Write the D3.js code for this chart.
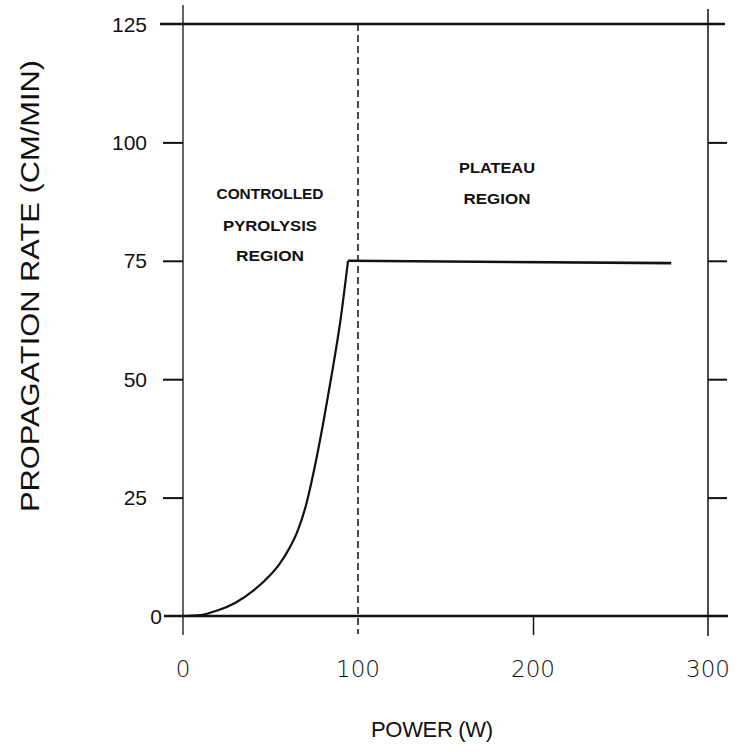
<!DOCTYPE html>
<html><head><meta charset="utf-8">
<script src="https://cdn.jsdelivr.net/npm/d3@7"></script>
<style>body{margin:0;background:#fff}svg{display:block}</style>
</head><body>
<script>
// Data
const power = [0, 10, 20, 30, 40, 50, 55, 60, 65, 70, 75, 80, 85, 90, 94.3, 279];
const rate  = [0, 0.2, 1.2, 2.8, 5.3, 8.7, 10.9, 13.8, 17.5, 23.0, 31.0, 40.5, 51.0, 62.5, 75.0, 74.5];
const xTicks = [0, 100, 200, 300];
const yTicks = [0, 25, 50, 75, 100, 125];
const boundaryX = 100;
const regionLeft = ["CONTROLLED", "PYROLYSIS", "REGION"];
const regionRight = ["PLATEAU", "REGION"];
const xTitle = "POWER (W)";
const yTitle = "PROPAGATION RATE (CM/MIN)";

const W = 739, H = 752;
const svg = d3.select("body").append("svg").attr("width", W).attr("height", H);
const x = d3.scaleLinear().domain([0, 300]).range([183, 708]);
const y = d3.scaleLinear().domain([0, 125]).range([616, 24]);

const ink = "#111";
const g = svg.append("g");

// frame lines
g.append("line").attr("x1", 160).attr("x2", 725).attr("y1", y(125)).attr("y2", y(125)).attr("stroke", ink).attr("stroke-width", 2.6);
g.append("line").attr("x1", 164).attr("x2", 728).attr("y1", y(0)).attr("y2", y(0)).attr("stroke", ink).attr("stroke-width", 2.6);
g.append("line").attr("x1", x(0)).attr("x2", x(0)).attr("y1", 5).attr("y2", 635).attr("stroke", ink).attr("stroke-width", 1.3);
g.append("line").attr("x1", x(300)).attr("x2", x(300)).attr("y1", 9).attr("y2", 636).attr("stroke", ink).attr("stroke-width", 1.5);

// y ticks (left and right, outward)
const yAxisL = d3.axisLeft(y).tickValues(yTicks.filter(v => v > 0 && v < 125)).tickSize(20).tickFormat("");
const yAxisR = d3.axisRight(y).tickValues(yTicks.filter(v => v > 0 && v < 125)).tickSize(19).tickFormat("");
const gl = svg.append("g").attr("transform", `translate(${x(0)},0)`).call(yAxisL);
const gr = svg.append("g").attr("transform", `translate(${x(300)},0)`).call(yAxisR);
[gl, gr].forEach(a => { a.select(".domain").remove(); a.selectAll("line").attr("stroke", ink).attr("stroke-width", 2); });

// x ticks downward
const xAxis = d3.axisBottom(x).tickValues([200]).tickSize(19).tickFormat("");
const gx = svg.append("g").attr("transform", `translate(0,${y(0)})`).call(xAxis);
gx.select(".domain").remove();
gx.selectAll("line").attr("stroke", ink).attr("stroke-width", 1.5);

// dashed boundary
g.append("line").attr("x1", x(boundaryX)).attr("x2", x(boundaryX)).attr("y1", y(125)).attr("y2", 634)
  .attr("stroke", ink).attr("stroke-width", 1.5).attr("stroke-dasharray", "7,4");

// curve
const pts = power.map((p, i) => [p, rate[i]]);
const line = d3.line().x(d => x(d[0])).y(d => y(d[1])).curve(d3.curveMonotoneX);
g.append("path").attr("d", line(pts.slice(0, 15))).attr("fill", "none").attr("stroke", ink).attr("stroke-width", 2.2);
g.append("path").attr("d", d3.line().x(d => x(d[0])).y(d => y(d[1]))(pts.slice(14))).attr("fill", "none").attr("stroke", ink).attr("stroke-width", 2.6);

// y tick labels
svg.selectAll(".ylab").data(yTicks).enter().append("text")
  .attr("x", d => d === 0 ? 162 : 147).attr("y", d => y(d)).attr("dy", "0.36em")
  .attr("text-anchor", "end").attr("font-family", "Liberation Sans, Arial, sans-serif")
  .attr("font-size", 21).attr("fill", ink).text(d => d);

// x tick labels
svg.selectAll(".xlab").data(xTicks).enter().append("text")
  .attr("x", d => x(d)).attr("y", 677).attr("text-anchor", "middle")
  .attr("font-family", "DejaVu Sans, sans-serif").attr("font-weight", 300)
  .attr("font-size", 23).attr("fill", ink).text(d => d);

// axis titles
svg.append("text").attr("x", 432).attr("y", 737).attr("text-anchor", "middle")
  .attr("font-family", "Liberation Sans, Arial, sans-serif").attr("font-size", 22)
  .attr("textLength", 122).attr("fill", ink).text(xTitle);
svg.append("text").attr("transform", "translate(39,286) rotate(-90)").attr("text-anchor", "middle")
  .attr("font-family", "Liberation Sans, Arial, sans-serif").attr("font-size", 25)
  .attr("textLength", 452).attr("lengthAdjust", "spacingAndGlyphs").attr("fill", ink).text(yTitle);

// region labels
const lf = "Liberation Sans, Arial, sans-serif";
svg.selectAll(".rl").data(regionLeft).enter().append("text")
  .attr("x", 270).attr("y", (d, i) => [199, 231, 261][i]).attr("text-anchor", "middle")
  .attr("font-family", lf).attr("font-weight", "bold").attr("font-size", 15)
  .attr("textLength", (d, i) => [107, 94, 68][i]).attr("lengthAdjust", "spacingAndGlyphs")
  .attr("fill", ink).text(d => d);
svg.selectAll(".rr").data(regionRight).enter().append("text")
  .attr("x", 497).attr("y", (d, i) => [173, 204][i]).attr("text-anchor", "middle")
  .attr("font-family", lf).attr("font-weight", "bold").attr("font-size", 15)
  .attr("textLength", (d, i) => [76, 67][i]).attr("lengthAdjust", "spacingAndGlyphs")
  .attr("fill", ink).text(d => d);
</script>
</body></html>
